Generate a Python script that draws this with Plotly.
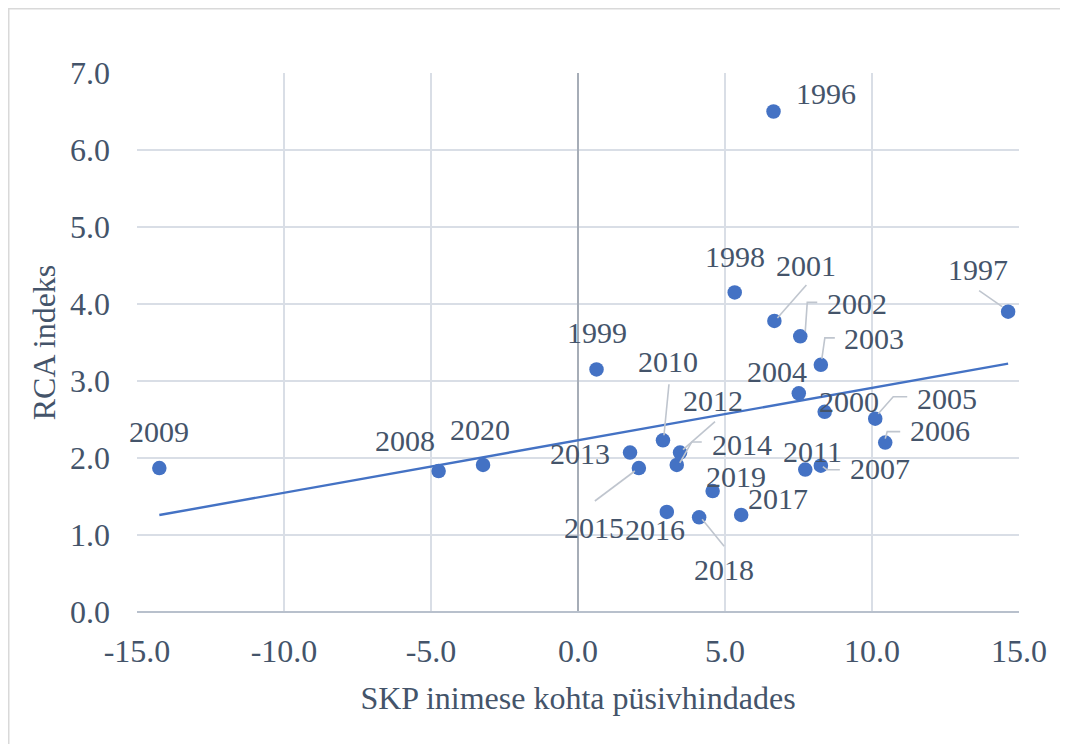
import numpy as np
import plotly.graph_objects as go

# ---- data ----
years = ["1996", "1997", "1998", "1999", "2000", "2001", "2002", "2003", "2004",
         "2005", "2006", "2007", "2008", "2009", "2010", "2011", "2012", "2013",
         "2014", "2015", "2016", "2017", "2018", "2019", "2020"]
gdp_growth = [6.65, 14.63, 5.33, 0.63, 8.39, 6.68, 7.56, 8.26, 7.51,
              10.11, 10.45, 8.26, -4.74, -14.24, 2.89, 7.73, 3.47, 1.77,
              3.36, 2.07, 3.02, 5.55, 4.12, 4.58, -3.23]
rca_index = [6.50, 3.90, 4.15, 3.15, 2.60, 3.78, 3.58, 3.21, 2.84,
             2.51, 2.20, 1.90, 1.83, 1.87, 2.23, 1.85, 2.07, 2.07,
             1.91, 1.87, 1.30, 1.26, 1.23, 1.57, 1.91]
x_ticks = [-15.0, -10.0, -5.0, 0.0, 5.0, 10.0, 15.0]
y_ticks = [0.0, 1.0, 2.0, 3.0, 4.0, 5.0, 6.0, 7.0]

# ---- label placement (pixel offsets of label centre from the point, screen y down) ----
label_off = {
    "1996": (52, -18), "1997": (-30, -42), "1998": (0, -36), "1999": (0, -37),
    "2000": (24, -10), "2001": (32, -55), "2002": (57, -33), "2003": (53, -26),
    "2004": (-22, -22), "2005": (72, -20), "2006": (55, -12), "2007": (59, 3),
    "2008": (-34, -31), "2009": (0, -37), "2010": (5, -79), "2011": (7, -18),
    "2012": (33, -52), "2013": (-50, 1), "2014": (65, -20), "2015": (-45, 59),
    "2016": (-12, 18), "2017": (37, -16), "2018": (25, 52), "2019": (23, -15),
    "2020": (-3, -35),
}
# leader lines: list of pixel points relative to the marker (screen y down)
leaders = {
    "1997": [(-29, -21), (-6, -5)],
    "2001": [(32, -36), (3, -3)],
    "2002": [(17, -34), (7, -34), (5, -5)],
    "2003": [(14, -27), (4, -27), (1, -6)],
    "2005": [(32, -22), (18, -22), (3, -5)],
    "2006": [(15, -11), (2, -11), (0, -4)],
    "2007": [(19, 4), (6, 4), (2, 1)],
    "2010": [(6, -56), (1, -5)],
    "2012": [(35, -31), (3, -3)],
    "2014": [(25, -23), (15, -23), (3, -2)],
    "2015": [(-44, 33), (-4, 3)],
    "2018": [(3, 2), (25, 29)],
}

FONT = "Liberation Serif"
TXT = "#44546A"
BLUE = "#4472C4"
GRID = "#D9DEE6"

fig = go.Figure()

# trendline (least squares)
slope, intercept = np.polyfit(gdp_growth, rca_index, 1)
tx = np.array([min(gdp_growth), max(gdp_growth)])
fig.add_trace(go.Scatter(x=tx, y=slope * tx + intercept, mode="lines",
                         line=dict(color=BLUE, width=2.4), hoverinfo="skip",
                         showlegend=False))

fig.add_trace(go.Scatter(x=gdp_growth, y=rca_index, mode="markers",
                         marker=dict(color=BLUE, size=14.5),
                         text=years, showlegend=False))

shapes = []
for yr, xv, yv in zip(years, gdp_growth, rca_index):
    if yr in leaders:
        pts = leaders[yr]
        path = "M " + " L ".join(f"{px},{-py}" for px, py in pts)
        shapes.append(dict(type="path", xref="x", yref="y",
                           xsizemode="pixel", ysizemode="pixel",
                           xanchor=xv, yanchor=yv, path=path,
                           line=dict(color="#BFC5CE", width=1.6)))

# outer chart border (left and top edges visible)
shapes.append(dict(type="rect", xref="paper", yref="paper",
                   x0=-0.1454, x1=1.3, y0=-0.4, y1=1.1192,
                   line=dict(color="#D9D9D9", width=1.5), layer="below"))

annotations = []
for yr, xv, yv in zip(years, gdp_growth, rca_index):
    dx, dy = label_off[yr]
    annotations.append(dict(x=xv, y=yv, text=yr, showarrow=False,
                            xshift=dx, yshift=-dy,
                            font=dict(family=FONT, size=30, color=TXT)))

axis_common = dict(showgrid=True, gridcolor=GRID, gridwidth=1.5,
                   tickfont=dict(family=FONT, size=32, color=TXT),
                   showline=False, ticks="", automargin=False)

fig.update_layout(
    width=1068, height=744,
    margin=dict(l=129, r=57, t=65, b=140),
    paper_bgcolor="white", plot_bgcolor="white",
    font=dict(family=FONT, color=TXT),
    shapes=shapes, annotations=annotations,
    xaxis=dict(range=[-15, 15], tickvals=x_ticks,
               ticktext=[f"{v:.1f}" for v in x_ticks],
               zeroline=True, zerolinecolor="#A6ADB7", zerolinewidth=1.5,
               ticklabelstandoff=17,
               title=dict(text="SKP inimese kohta püsivhindades",
                          font=dict(family=FONT, size=32, color=TXT), standoff=18),
               **axis_common),
    yaxis=dict(range=[0, 7], tickvals=y_ticks,
               ticktext=[f"{v:.1f}" for v in y_ticks],
               zeroline=True, zerolinecolor="#B8C0CC", zerolinewidth=2,
               ticklabelstandoff=26,
               title=dict(text="RCA indeks",
                          font=dict(family=FONT, size=32, color=TXT), standoff=4),
               **axis_common),
)

fig.write_html("out.html")
